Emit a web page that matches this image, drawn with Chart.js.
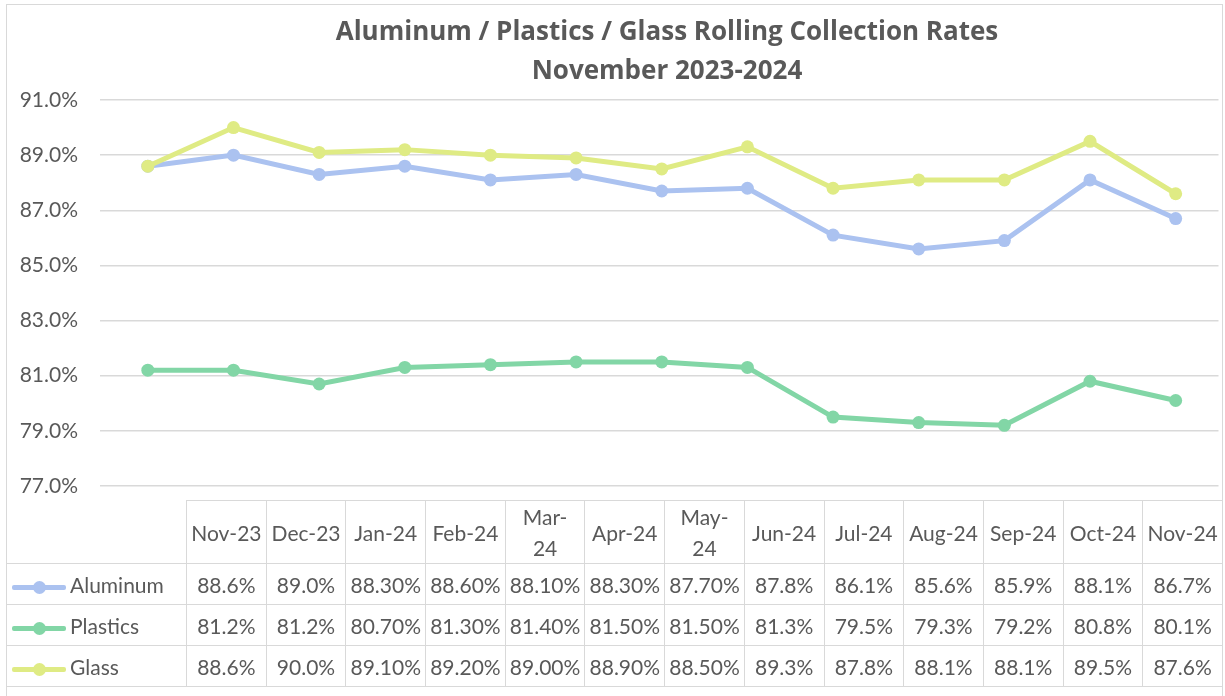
<!DOCTYPE html>
<html>
<head>
<meta charset="utf-8">
<script src="https://cdn.jsdelivr.net/npm/chart.js@4.4.1/dist/chart.umd.min.js"></script>
<style>
  html, body { margin: 0; padding: 0; background: #fff; }
  #wrap { position: relative; width: 1225px; height: 696px; overflow: hidden; font-family: Lato, "Noto Sans", sans-serif; }
  #frame { position: absolute; left: 6px; top: 4px; width: 1217px; height: 720px; border: 1px solid #d9d9d9; box-sizing: border-box; }
  canvas { position: absolute; left: 0; top: 0; }
  #title { position: absolute; left: 267px; width: 800px; top: 11px; text-align: center; color: #595959; font-family: "Open Sans", Lato, sans-serif; font-weight: bold; font-size: 26px; line-height: 39px; white-space: nowrap; }
  #tbl { position: absolute; left: 6px; top: 500px; border-collapse: collapse; table-layout: fixed; color: #595959; font-size: 21px; }
  #tbl td { border: 1px solid #d9d9d9; padding: 0; text-align: center; white-space: pre-line; overflow: hidden; }
  #tbl tr.head td { height: 62px; line-height: 31px; }
  #tbl tr.body td { height: 40px; }
  #tbl td.blank { border-top: none; border-left: none; }
  #tbl td.leg { text-align: left; padding-left: 5px; white-space: nowrap; }
  .sw { display: inline-block; position: relative; width: 54px; height: 5px; vertical-align: middle; margin-right: 4px; border-radius: 2px; }
  .sw i { position: absolute; left: 21px; top: -4px; width: 13px; height: 13px; border-radius: 50%; }
</style>
</head>
<body>
<div id="wrap">
  <div id="frame"></div>
  <canvas id="c" width="1225" height="696"></canvas>
  <div id="title"></div>
  <table id="tbl"></table>
</div>
<script>
const titleLines = ['Aluminum / Plastics / Glass Rolling Collection Rates', 'November 2023-2024'];
const categories = ['Nov-23','Dec-23','Jan-24','Feb-24','Mar-24','Apr-24','May-24','Jun-24','Jul-24','Aug-24','Sep-24','Oct-24','Nov-24'];
const headerLabels = ['Nov-23','Dec-23','Jan-24','Feb-24','Mar-\n24','Apr-24','May-\n24','Jun-24','Jul-24','Aug-24','Sep-24','Oct-24','Nov-24'];
const seriesNames = ['Aluminum','Plastics','Glass'];
const aluminum = [88.6, 89.0, 88.3, 88.6, 88.1, 88.3, 87.7, 87.8, 86.1, 85.6, 85.9, 88.1, 86.7];
const plastics = [81.2, 81.2, 80.7, 81.3, 81.4, 81.5, 81.5, 81.3, 79.5, 79.3, 79.2, 80.8, 80.1];
const glass    = [88.6, 90.0, 89.1, 89.2, 89.0, 88.9, 88.5, 89.3, 87.8, 88.1, 88.1, 89.5, 87.6];
const tableDecimals = [1, 1, 2, 2, 2, 2, 2, 1, 1, 1, 1, 1, 1];
const yMin = 77, yMax = 91, yStep = 2;
const colors = ['#abc2f0', '#82d6a6', '#dfeb84'];

const seriesValues = [aluminum, plastics, glass];

document.getElementById('title').innerHTML = titleLines.map(t => '<div>' + t + '</div>').join('');

// Data table
const tbl = document.getElementById('tbl');
let html = '<colgroup><col style="width:180px">' + categories.map(() => '<col style="width:79.7px">').join('') + '</colgroup>';
html += '<tr class="head"><td class="blank"></td>' + headerLabels.map(h => '<td>' + h + '</td>').join('') + '</tr>';
seriesNames.forEach((name, s) => {
  html += '<tr class="body"><td class="leg"><span class="sw" style="background:' + colors[s] + '"><i style="background:' + colors[s] + '"></i></span>' + name + '</td>';
  html += seriesValues[s].map((v, i) => '<td>' + v.toFixed(tableDecimals[i]) + '%</td>').join('');
  html += '</tr>';
});
tbl.innerHTML = html;

new Chart(document.getElementById('c'), {
  type: 'line',
  data: {
    labels: categories,
    datasets: seriesNames.map((name, s) => ({
      label: name,
      data: seriesValues[s],
      borderColor: colors[s],
      backgroundColor: colors[s],
      borderWidth: 5,
      pointRadius: 6.5,
      pointHoverRadius: 6.5,
      pointBorderWidth: 0,
      tension: 0,
      order: 3 - s
    }))
  },
  options: {
    responsive: false,
    animation: false,
    events: [],
    layout: { padding: { top: 100, right: 3, bottom: 210, left: 0 } },
    plugins: { legend: { display: false }, title: { display: false }, tooltip: { enabled: false } },
    scales: {
      x: { display: false, offset: true },
      y: {
        min: yMin, max: yMax,
        afterFit: (sc) => { sc.width = 105; },
        border: { display: false },
        grid: { color: '#d9d9d9', lineWidth: 1.5, drawTicks: true, tickLength: 5 },
        ticks: {
          stepSize: yStep,
          padding: 22,
          color: '#595959',
          font: { family: 'Lato', size: 21 },
          callback: (v) => Number(v).toFixed(1) + '%'
        }
      }
    }
  }
});
</script>
</body>
</html>
